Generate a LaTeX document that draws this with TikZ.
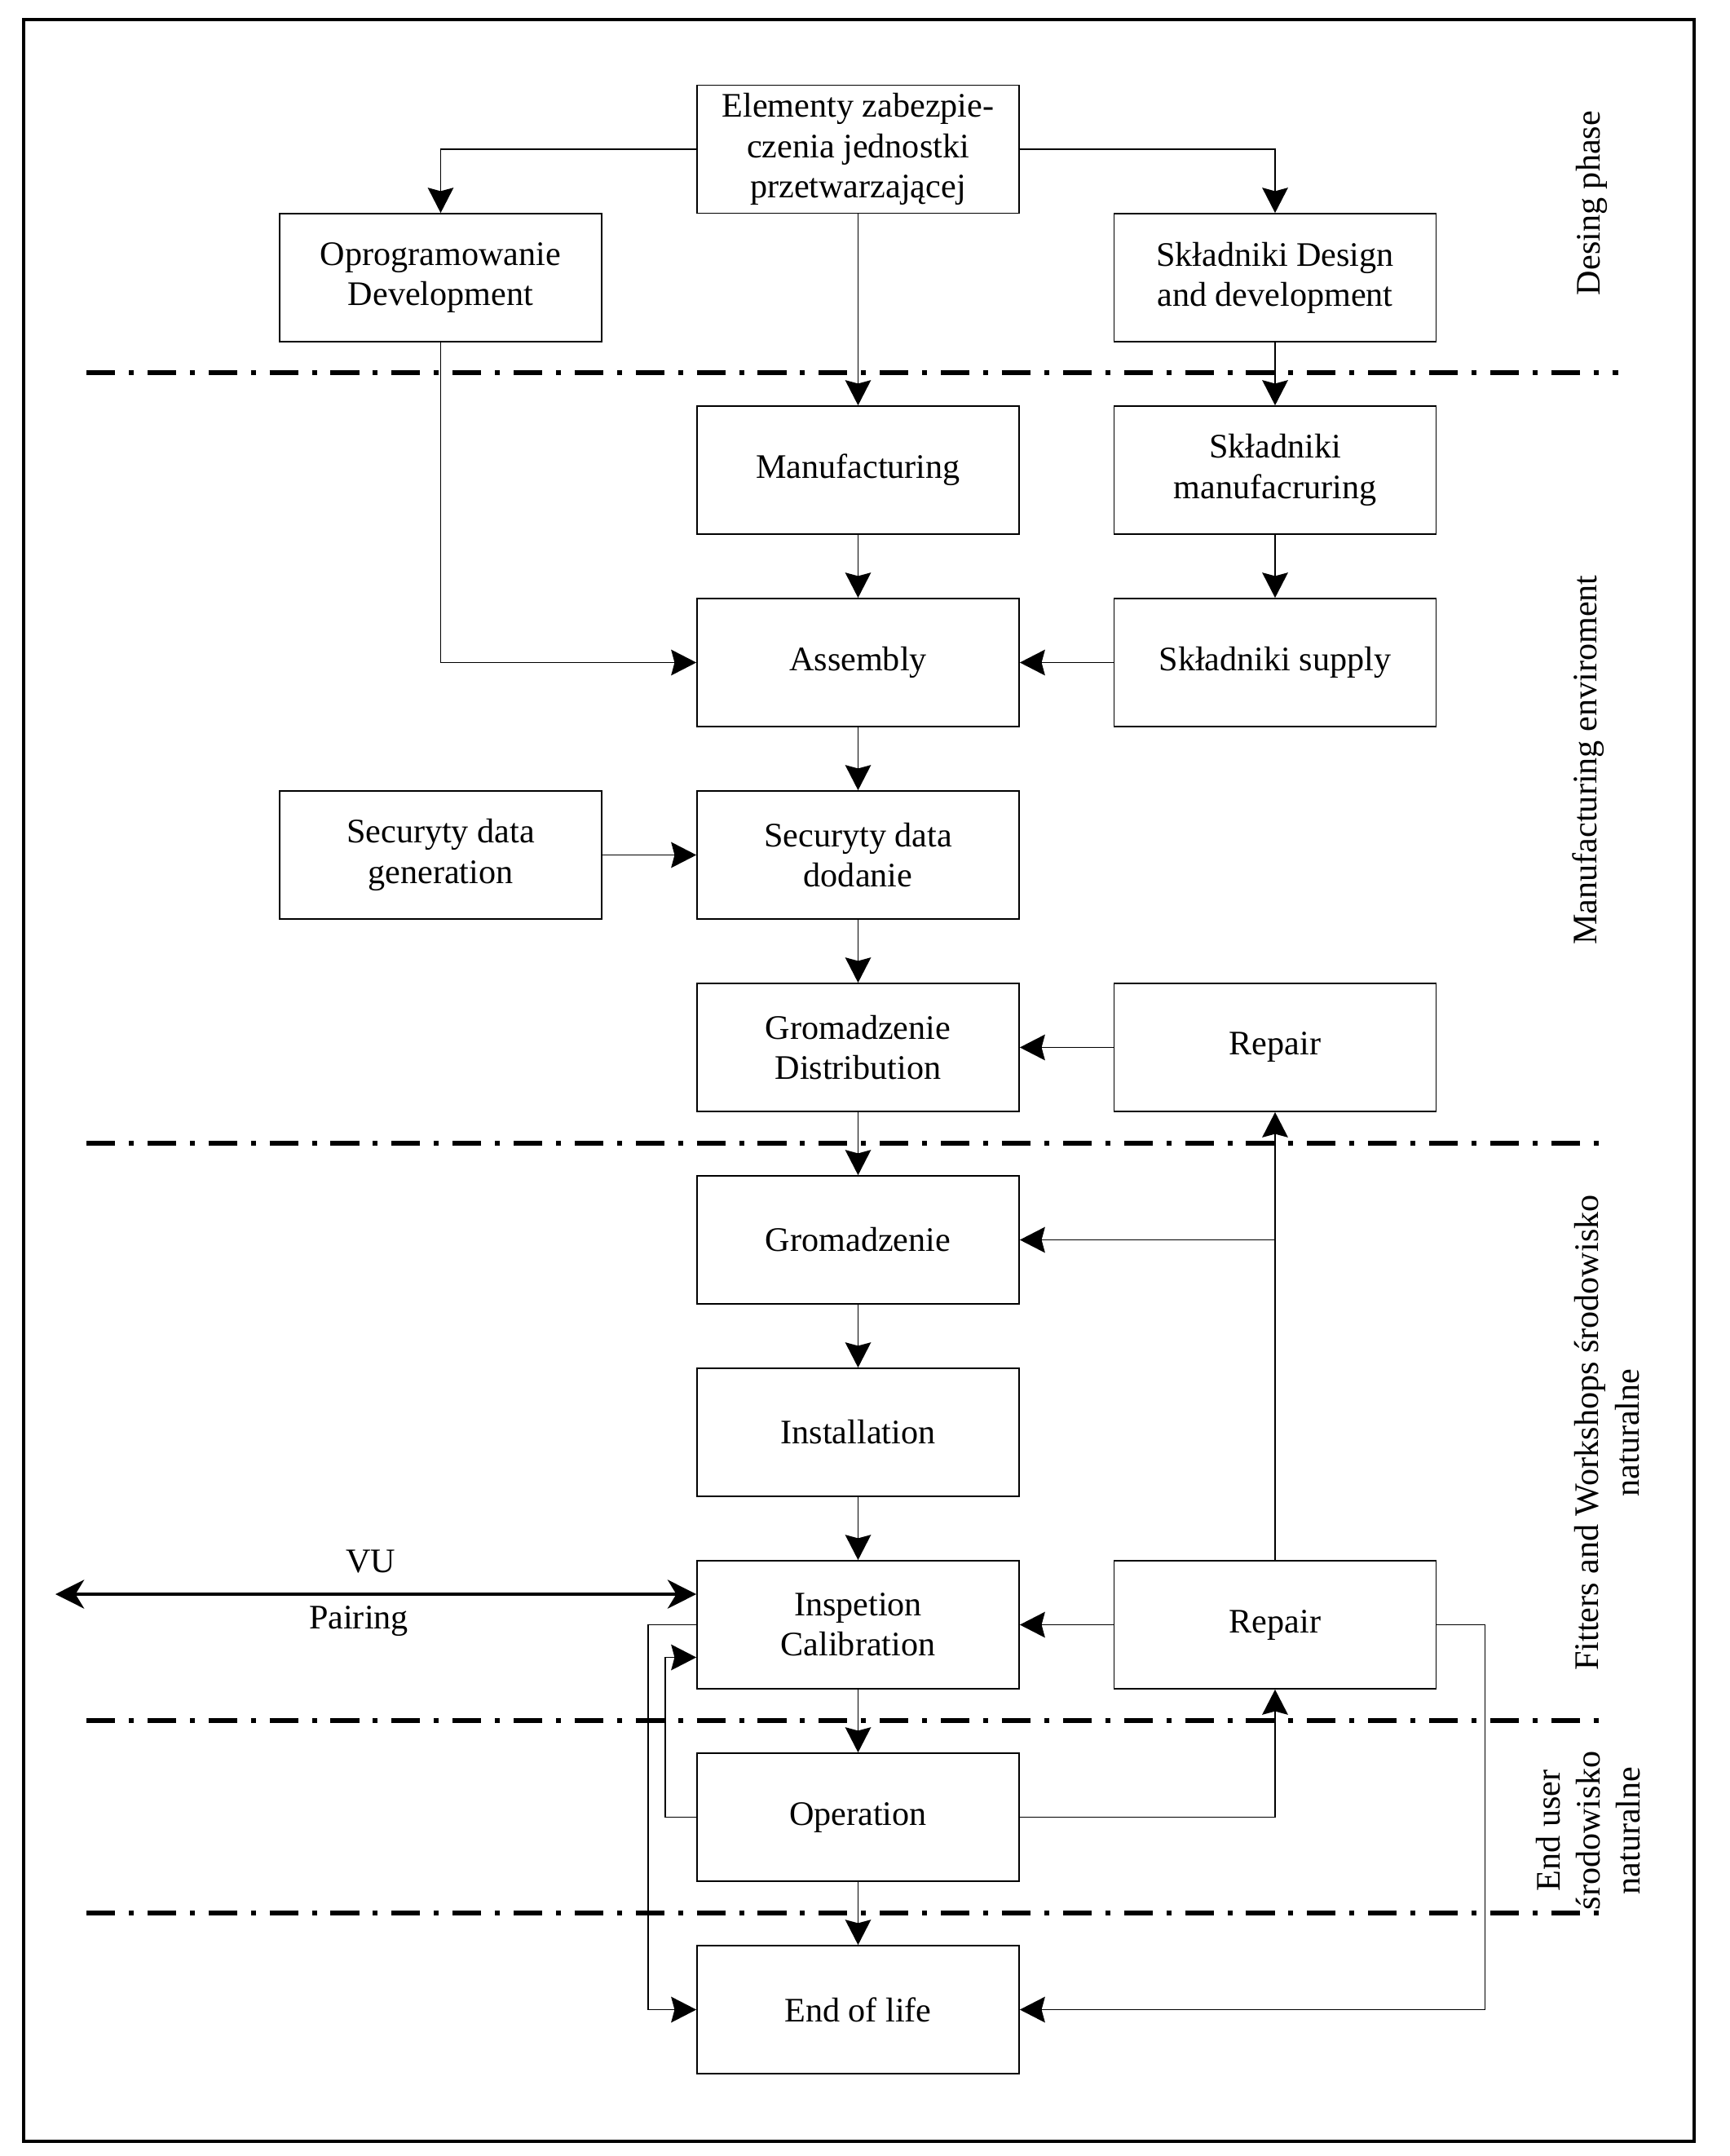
\documentclass[tikz,border=0pt]{standalone}
\usepackage{fontspec}
\setmainfont{Liberation Serif}
\usepackage{tikz}
\usetikzlibrary{calc}
\usetikzlibrary{arrows.meta}
\tikzset{
  blok/.style={draw, line width=0.5pt, minimum width=3.95cm, minimum height=1.57cm, align=center, inner sep=0pt, font=\fontsize{12}{14}\selectfont},
  strz/.style={line width=0.4pt, -{Stealth[length=8.8pt,width=9pt,inset=1.2pt]}},
  podw/.style={line width=1.3pt, {Stealth[length=10pt,width=10pt,inset=3pt]}-{Stealth[length=10pt,width=10pt,inset=3pt]}},
  granica/.style={line width=1.6pt, dash pattern=on 10pt off 4.8pt on 1.7pt off 4.8pt},
  faza/.style={rotate=90, align=center, font=\fontsize{12}{14}\selectfont},
  opis/.style={font=\fontsize{12}{14}\selectfont}
}
\newcommand{\blok}[4]{\node[blok] (#1) at (#2,#3) {#4};}
\newcommand{\fazanode}[4]{\node[faza] (#1) at (#2,#3) {#4};}
\newcommand{\granicalinia}[3]{\draw[granica] (#1,#3) -- (#2,#3);}

\begin{document}
\begin{tikzpicture}
\useasboundingbox (0,0) rectangle (21.22,-26.44);
\draw[line width=1.1pt] (0.29,-0.24) rectangle (20.78,-26.26);

\blok{elem}{10.525}{-1.83}{Elementy zabezpie-\\czenia jednostki\\przetwarzającej}
\blok{oprog}{5.405}{-3.405}{Oprogramowanie\\Development}
\blok{sdes}{15.64}{-3.405}{Składniki Design\\and development}
\blok{manuf}{10.525}{-5.765}{Manufacturing}
\blok{smanuf}{15.64}{-5.765}{Składniki\\manufacruring}
\blok{assem}{10.525}{-8.125}{Assembly}
\blok{ssupp}{15.64}{-8.125}{Składniki supply}
\blok{sdgen}{5.405}{-10.485}{Securyty data\\generation}
\blok{sddod}{10.525}{-10.485}{Securyty data\\dodanie}
\blok{gdist}{10.525}{-12.845}{Gromadzenie\\Distribution}
\blok{repA}{15.64}{-12.845}{Repair}
\blok{groma}{10.525}{-15.205}{Gromadzenie}
\blok{insta}{10.525}{-17.565}{Installation}
\blok{inspe}{10.525}{-19.925}{Inspetion\\Calibration}
\blok{repB}{15.64}{-19.925}{Repair}
\blok{opera}{10.525}{-22.285}{Operation}
\blok{endlf}{10.525}{-24.645}{End of life}

\granicalinia{1.06}{19.85}{-4.57}
\granicalinia{1.06}{19.65}{-14.02}
\granicalinia{1.06}{19.65}{-21.10}
\granicalinia{1.06}{19.65}{-23.46}

\fazanode{fdes}{19.52}{-2.49}{Desing phase}
\fazanode{fman}{19.48}{-9.32}{Manufacturing enviroment}
\fazanode{ffit}{19.71}{-17.57}{Fitters and Workshops środowisko\\naturalne}
\fazanode{fend}{19.48}{-22.45}{End user\\środowisko\\naturalne}

\draw[strz] (elem.west) -| (oprog.north);
\draw[strz] (elem.east) -| (sdes.north);
\draw[strz] (elem.south) -- (manuf.north);
\draw[strz] (sdes.south) -- (smanuf.north);
\draw[strz] (manuf.south) -- (assem.north);
\draw[strz] (smanuf.south) -- (ssupp.north);
\draw[strz] (oprog.south) |- (assem.west);
\draw[strz] (ssupp.west) -- (assem.east);
\draw[strz] (assem.south) -- (sddod.north);
\draw[strz] (sdgen.east) -- (sddod.west);
\draw[strz] (sddod.south) -- (gdist.north);
\draw[strz] (repA.west) -- (gdist.east);
\draw[strz] (gdist.south) -- (groma.north);
\draw[strz] (groma.south) -- (insta.north);
\draw[strz] (insta.south) -- (inspe.north);
\draw[strz] (repB.north) -- (repA.south);
\coordinate (rozg) at (repB.north |- groma.east);
\draw[strz] (rozg) -- (groma.east);
\draw[strz] (repB.west) -- (inspe.east);
\draw[strz] (inspe.south) -- (opera.north);
\draw[strz] (opera.east) -| (repB.south);
\draw[strz] (opera.south) -- (endlf.north);
\draw[strz] (repB.east) -- ++(0.59,0) |- (endlf.east);
\draw[strz] (inspe.west) -- ++(-0.59,0) |- (endlf.west);
\draw[strz] (opera.west) -- ++(-0.38,0) |- ([yshift=-0.4cm]inspe.west);

\coordinate (vukoniec) at (0.68,-19.55);
\draw[podw] (vukoniec) -- (vukoniec -| inspe.west);
\node[opis] (vu) at (4.55,-19.15) {VU};
\node[opis] (pair) at (4.40,-19.88) {Pairing};
\end{tikzpicture}
\end{document}
